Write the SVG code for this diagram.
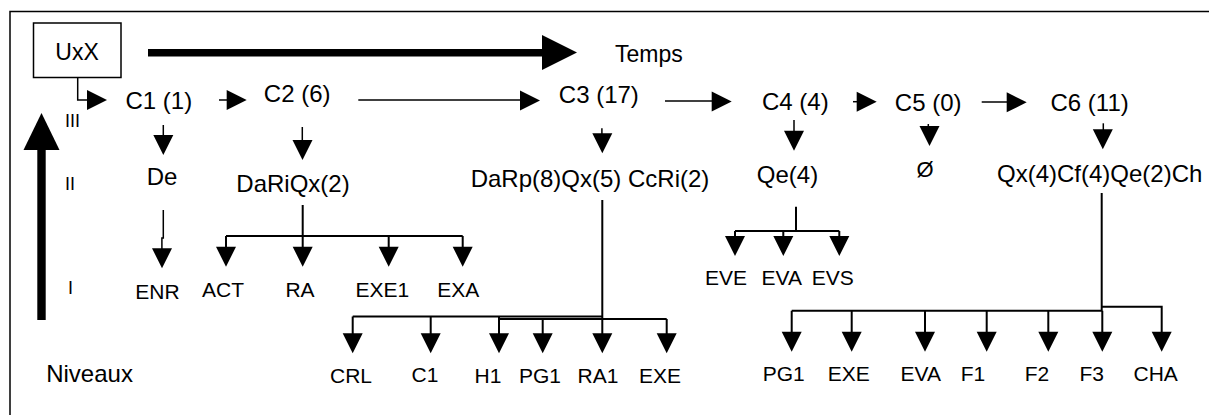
<svg xmlns="http://www.w3.org/2000/svg" xmlns:xlink="http://www.w3.org/1999/xlink" width="1209" height="415" viewBox="0 0 1209 415">
<style>
text{font-family:"Liberation Sans",Arial,sans-serif;fill:#000}
.c{font-size:24px}
.l2{font-size:24px;text-anchor:middle}
.l1{font-size:21px;text-anchor:middle}
.rn{font-size:18px}
.ln{fill:none;stroke:#000;stroke-width:2}
.th{fill:none;stroke:#000;stroke-width:1.5}
</style>
<defs>
<path id="ah" d="M-10,-20 L10,-20 L0,0 Z" fill="#000"/>
</defs>
<rect x="0" y="0" width="1209" height="415" fill="#fff"/>
<rect x="10" y="11.5" width="1230" height="420" fill="none" stroke="#000" stroke-width="1.5"/>

<g id="uxx">
<rect x="33.5" y="23" width="87.5" height="54.5" fill="#fff" stroke="#000" stroke-width="1.5"/>
<text x="77" y="60" class="l2" style="font-size:23px">UxX</text>
</g>

<g id="temps">
<line x1="148" y1="52.7" x2="544" y2="52.7" stroke="#000" stroke-width="7.5"/>
<polygon points="542,35 577,52.5 542,70" fill="#000"/>
<text x="615" y="61.5" style="font-size:23px">Temps</text>
</g>

<g id="niveaux">
<rect x="37.3" y="148" width="8.4" height="172" fill="#000"/>
<polygon points="23.5,150 41.5,113 59.5,150" fill="#000"/>
<text x="46.2" y="381.5" class="c">Niveaux</text>
<text x="65" y="127" class="rn">III</text>
<text x="65" y="190" class="rn">II</text>
<text x="68" y="293.5" class="rn">I</text>
</g>

<g id="c1"><text x="125.5" y="108.5" class="c">C1 (1)</text></g>
<g id="c2"><text x="263.8" y="101.7" class="c">C2 (6)</text></g>
<g id="c3"><text x="558.8" y="102.7" class="c">C3 (17)</text></g>
<g id="c4"><text x="762" y="110" class="c">C4 (4)</text></g>
<g id="c5"><text x="894.8" y="111" class="c">C5 (0)</text></g>
<g id="c6"><text x="1050.5" y="111" class="c">C6 (11)</text></g>

<g id="de"><text x="162" y="185" class="l2">De</text></g>
<g id="dariqx"><text x="293" y="192" class="l2">DaRiQx(2)</text></g>
<g id="darp"><text x="590" y="187" class="l2">DaRp(8)Qx(5) CcRi(2)</text></g>
<g id="qe"><text x="787.5" y="183.3" class="l2">Qe(4)</text></g>
<g id="empty"><text x="925" y="176.5" class="l2" style="font-size:22px">Ø</text></g>
<g id="qx"><text x="997" y="182" class="c">Qx(4)Cf(4)Qe(2)Ch</text></g>

<g id="enr"><text x="157.5" y="298.5" class="l1">ENR</text></g>
<g id="act"><text x="223" y="296.7" class="l1">ACT</text></g>
<g id="ra"><text x="300" y="296.7" class="l1">RA</text></g>
<g id="exe1"><text x="382.3" y="296.7" class="l1">EXE1</text></g>
<g id="exa"><text x="458.3" y="296.7" class="l1">EXA</text></g>

<g id="crl"><text x="351" y="383" class="l1">CRL</text></g>
<g id="c1b"><text x="425" y="381.7" class="l1">C1</text></g>
<g id="h1"><text x="488" y="383" class="l1">H1</text></g>
<g id="pg1a"><text x="540" y="383" class="l1">PG1</text></g>
<g id="ra1"><text x="598" y="383" class="l1">RA1</text></g>
<g id="exea"><text x="660" y="383" class="l1">EXE</text></g>

<g id="eve"><text x="726" y="285" class="l1">EVE</text></g>
<g id="evaa"><text x="781.7" y="285" class="l1">EVA</text></g>
<g id="evs"><text x="832.7" y="285" class="l1">EVS</text></g>

<g id="pg1b"><text x="783.7" y="381" class="l1">PG1</text></g>
<g id="exeb"><text x="848.8" y="381" class="l1">EXE</text></g>
<g id="evab"><text x="920.7" y="381" class="l1">EVA</text></g>
<g id="f1"><text x="973" y="381" class="l1">F1</text></g>
<g id="f2"><text x="1037" y="381" class="l1">F2</text></g>
<g id="f3"><text x="1091.7" y="381" class="l1">F3</text></g>
<g id="cha"><text x="1155.7" y="381" class="l1">CHA</text></g>

<g id="connectors">
<!-- UxX to C1 -->
<path class="th" d="M77.7,78 V100 H89"/>
<use xlink:href="#ah" transform="translate(107,100) rotate(-90)"/>
<!-- C-chain -->
<path class="th" d="M219,100 H228"/>
<use xlink:href="#ah" transform="translate(246.7,100) rotate(-90)"/>
<path class="th" d="M358.3,100 H522"/>
<use xlink:href="#ah" transform="translate(540,100.5) rotate(-90)"/>
<path class="th" d="M665,101 H713"/>
<use xlink:href="#ah" transform="translate(731.7,101.5) rotate(-90)"/>
<path class="th" d="M853,101.7 H858"/>
<use xlink:href="#ah" transform="translate(876.7,101.7) rotate(-90)"/>
<path class="th" d="M981.7,102 H1008"/>
<use xlink:href="#ah" transform="translate(1026.7,102.3) rotate(-90)"/>
<!-- C down arrows -->
<path class="th" d="M163.3,125 V136"/>
<use xlink:href="#ah" x="163.3" y="155"/>
<path class="th" d="M302.3,127 V141"/>
<use xlink:href="#ah" x="302.5" y="160"/>
<path class="th" d="M601.9,128.3 V135"/>
<use xlink:href="#ah" x="602.3" y="153.3"/>
<path class="th" d="M794,120 V132"/>
<use xlink:href="#ah" x="794" y="150.7"/>
<path class="th" d="M928.3,124 V127"/>
<use xlink:href="#ah" x="929.5" y="146"/>
<path class="th" d="M1103.3,123.3 V131"/>
<use xlink:href="#ah" x="1102.8" y="149.3"/>
<!-- De to ENR -->
<path class="th" d="M163.3,210 V238 H161.9 V250"/>
<use xlink:href="#ah" x="162" y="268.3"/>
<!-- DaRiQx tree -->
<path class="ln" d="M302.7,205 V236 M226,236 H462.7 M226,236 V248 M302.7,236 V248 M388.7,236 V248 M462.7,236 V248"/>
<use xlink:href="#ah" x="226" y="266.7"/>
<use xlink:href="#ah" x="302.7" y="266.7"/>
<use xlink:href="#ah" x="388.7" y="266.7"/>
<use xlink:href="#ah" x="462.7" y="266.7"/>
<!-- DaRp tree -->
<path class="ln" d="M602.3,200 V317.5 M352.7,316.5 H602.3 M498.3,319 H666.7 M352.7,316.5 V336 M430.7,316.5 V336 M499,316.5 V336 M542.7,319 V336 M602.3,316.5 V336 M666.7,319 V336"/>
<use xlink:href="#ah" x="352.7" y="353.3"/>
<use xlink:href="#ah" x="430.7" y="353.3"/>
<use xlink:href="#ah" x="499" y="353.3"/>
<use xlink:href="#ah" x="542.7" y="353.3"/>
<use xlink:href="#ah" x="602.3" y="353.3"/>
<use xlink:href="#ah" x="666.7" y="353.3"/>
<!-- Qe tree -->
<path class="ln" d="M796,206.7 V231 M735,231 H839.3 M735,231 V238 M783.3,231 V238 M839.3,231 V238"/>
<use xlink:href="#ah" x="735" y="256"/>
<use xlink:href="#ah" x="783.3" y="256"/>
<use xlink:href="#ah" x="839.3" y="256"/>
<!-- Qx tree -->
<path class="ln" d="M1101.7,193 V311" stroke-width="2.5"/>
<path class="ln" d="M791.7,310.7 H1101.7 M1101.7,306.7 H1161.7 V333 M791.7,310.7 V333 M851.7,310.7 V333 M925,310.7 V333 M986.7,310.7 V333 M1048.3,310.7 V333 M1102.3,310.7 V333"/>
<use xlink:href="#ah" x="791.7" y="351.7"/>
<use xlink:href="#ah" x="851.7" y="351.7"/>
<use xlink:href="#ah" x="925" y="351.7"/>
<use xlink:href="#ah" x="986.7" y="351.7"/>
<use xlink:href="#ah" x="1048.3" y="351.7"/>
<use xlink:href="#ah" x="1102.3" y="351.7"/>
<use xlink:href="#ah" x="1161.7" y="351.7"/>
</g>
</svg>
